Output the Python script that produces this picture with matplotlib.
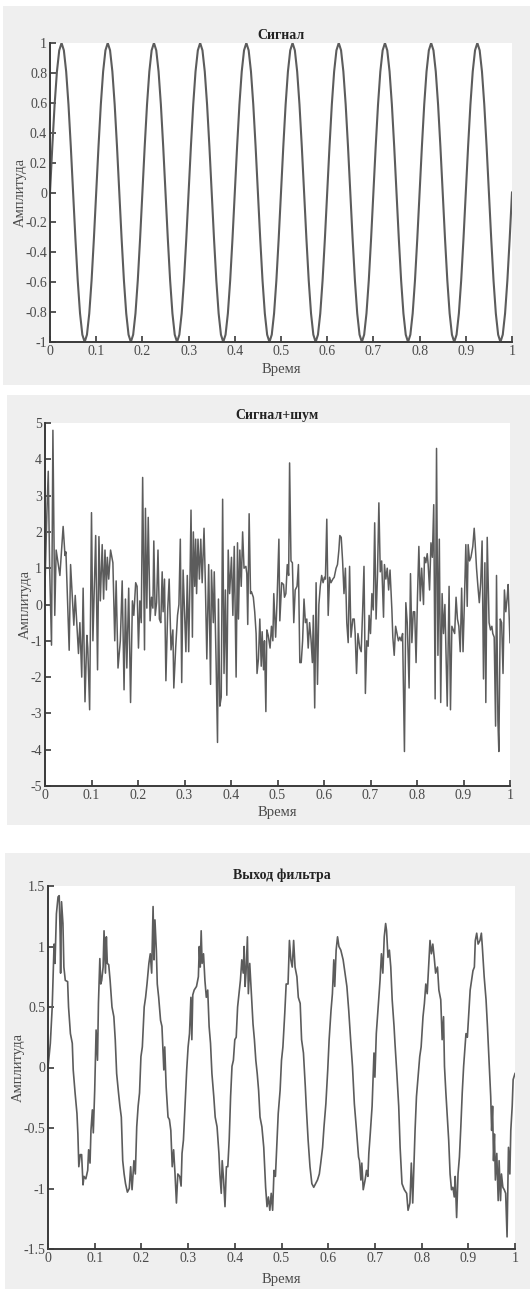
import matplotlib
matplotlib.use("Agg")
import matplotlib.pyplot as plt
from matplotlib.patches import Rectangle
from matplotlib.ticker import FuncFormatter

plt.rcParams['font.family'] = ['Liberation Serif', 'DejaVu Serif']
plt.rcParams['axes.unicode_minus'] = False

# ---------------- data ----------------
titles = ["Сигнал", "Сигнал+шум", "Выход фильтра"]
xlabel = "Время"
ylabel = "Амплитуда"
x_ticks = [0, 0.1, 0.2, 0.3, 0.4, 0.5, 0.6, 0.7, 0.8, 0.9, 1]

# clean signal sampled every 0.005 s
sig_dt = 0.005
sig_v = [
 0, .309, .588, .809, .951, 1, .951, .809, .588, .309, 0, -.309, -.588, -.809, -.951, -1, -.951, -.809, -.588, -.309,
 0, .309, .588, .809, .951, 1, .951, .809, .588, .309, 0, -.309, -.588, -.809, -.951, -1, -.951, -.809, -.588, -.309,
 0, .309, .588, .809, .951, 1, .951, .809, .588, .309, 0, -.309, -.588, -.809, -.951, -1, -.951, -.809, -.588, -.309,
 0, .309, .588, .809, .951, 1, .951, .809, .588, .309, 0, -.309, -.588, -.809, -.951, -1, -.951, -.809, -.588, -.309,
 0, .309, .588, .809, .951, 1, .951, .809, .588, .309, 0, -.309, -.588, -.809, -.951, -1, -.951, -.809, -.588, -.309,
 0, .309, .588, .809, .951, 1, .951, .809, .588, .309, 0, -.309, -.588, -.809, -.951, -1, -.951, -.809, -.588, -.309,
 0, .309, .588, .809, .951, 1, .951, .809, .588, .309, 0, -.309, -.588, -.809, -.951, -1, -.951, -.809, -.588, -.309,
 0, .309, .588, .809, .951, 1, .951, .809, .588, .309, 0, -.309, -.588, -.809, -.951, -1, -.951, -.809, -.588, -.309,
 0, .309, .588, .809, .951, 1, .951, .809, .588, .309, 0, -.309, -.588, -.809, -.951, -1, -.951, -.809, -.588, -.309,
 0, .309, .588, .809, .951, 1, .951, .809, .588, .309, 0, -.309, -.588, -.809, -.951, -1, -.951, -.809, -.588, -.309,
 0]
sig_t = [i * sig_dt for i in range(len(sig_v))]
sig_yticks = [-1, -0.8, -0.6, -0.4, -0.2, 0, 0.2, 0.4, 0.6, 0.8, 1]

# noisy signal (vertices)
noisy_t = [0.000, 0.004, 0.007, 0.010, 0.014, 0.017, 0.021, 0.024, 0.028, 0.032, 0.039, 0.043, 0.045,
           0.052, 0.055, 0.062, 0.065, 0.072, 0.075, 0.079, 0.082, 0.086, 0.090, 0.092, 0.096, 0.100,
           0.103, 0.109, 0.113, 0.116, 0.119, 0.123, 0.126, 0.129, 0.132, 0.134, 0.137, 0.141, 0.146,
           0.150, 0.153, 0.157, 0.162, 0.166, 0.170, 0.173, 0.176, 0.180, 0.184, 0.188, 0.191, 0.195,
           0.198, 0.201, 0.204, 0.207, 0.210, 0.214, 0.216, 0.219, 0.222, 0.226, 0.229, 0.232, 0.234,
           0.237, 0.240, 0.243, 0.246, 0.249, 0.252, 0.254, 0.257, 0.260, 0.264, 0.267, 0.271, 0.275,
           0.277, 0.281, 0.285, 0.288, 0.291, 0.294, 0.297, 0.300, 0.303, 0.306, 0.309, 0.312, 0.314,
           0.317, 0.319, 0.322, 0.324, 0.326, 0.329, 0.332, 0.335, 0.338, 0.342, 0.345, 0.348, 0.352,
           0.356, 0.358, 0.362, 0.364, 0.368, 0.371, 0.373, 0.376, 0.379, 0.382, 0.385, 0.388, 0.391,
           0.394, 0.397, 0.401, 0.404, 0.407, 0.411, 0.414, 0.416, 0.419, 0.422, 0.425, 0.428, 0.432,
           0.434, 0.436, 0.439, 0.442, 0.444, 0.448, 0.451, 0.454, 0.456, 0.459, 0.462, 0.465, 0.467,
           0.470, 0.472, 0.475, 0.477, 0.480, 0.484, 0.487, 0.490, 0.492, 0.496, 0.499, 0.503, 0.505,
           0.509, 0.513, 0.515, 0.518, 0.521, 0.524, 0.526, 0.529, 0.532, 0.535, 0.538, 0.542, 0.545,
           0.548, 0.551, 0.554, 0.557, 0.560, 0.563, 0.566, 0.569, 0.572, 0.575, 0.577, 0.580, 0.583,
           0.586, 0.589, 0.592, 0.595, 0.598, 0.601, 0.603, 0.606, 0.609, 0.612, 0.615, 0.619, 0.622,
           0.626, 0.629, 0.632, 0.634, 0.637, 0.640, 0.643, 0.646, 0.649, 0.652, 0.655, 0.658, 0.662,
           0.665, 0.667, 0.670, 0.673, 0.677, 0.680, 0.683, 0.686, 0.689, 0.692, 0.695, 0.697, 0.700,
           0.703, 0.706, 0.709, 0.712, 0.715, 0.718, 0.721, 0.724, 0.728, 0.730, 0.733, 0.736, 0.739,
           0.742, 0.746, 0.748, 0.751, 0.754, 0.757, 0.760, 0.763, 0.766, 0.769, 0.773, 0.776, 0.779,
           0.783, 0.786, 0.789, 0.792, 0.795, 0.798, 0.801, 0.804, 0.807, 0.810, 0.814, 0.816, 0.819,
           0.822, 0.824, 0.827, 0.830, 0.833, 0.836, 0.839, 0.842, 0.845, 0.848, 0.851, 0.854, 0.857,
           0.860, 0.862, 0.865, 0.869, 0.872, 0.875, 0.878, 0.881, 0.884, 0.887, 0.890, 0.893, 0.896,
           0.899, 0.902, 0.905, 0.908, 0.910, 0.913, 0.916, 0.920, 0.923, 0.925, 0.928, 0.931, 0.934,
           0.937, 0.940, 0.943, 0.946, 0.948, 0.951, 0.955, 0.958, 0.961, 0.963, 0.966, 0.969, 0.971,
           0.974, 0.976, 0.979, 0.982, 0.985, 0.988, 0.991, 0.994, 0.996, 1.000]
noisy_v = [0.5, 2.5, 3.67, 1.0, -1.12, 4.8, -0.3, 1.5, 1.15, 0.8, 2.15, 1.35, 1.45,
           -1.26, 1.1, -0.57, 0.25, -1.35, -0.5, -2.0, 0.45, -2.68, -0.85, -1.2, -2.9, 2.53,
           -1.0, 1.9, -1.8, 1.87, 0.1, 1.65, 0.15, 1.5, 0.4, 1.3, 0.7, 1.5, 1.15,
           -1.0, 0.65, -1.75, -1.0, 0.65, -2.35, 0.15, -1.75, 0.45, -2.7, 0.1, -0.3, 0.6,
           0.5, -1.2, 0.1, -0.5, 3.5, -1.25, 2.65, -0.1, 2.4, -0.45, 0.2, -0.1, 1.75,
           -0.3, 0.05, 1.5, -0.4, -0.5, 0.9, -0.2, 0.7, -2.1, -0.1, 0.7, -1.25, -0.7,
           -2.3, -1.2, -0.3, 0.0, 1.8, -2.15, 0.95, -0.2, -1.3, 0.8, -1.3, 0.85, 2.6,
           -0.9, 2.0, 0.5, 1.8, 0.3, 1.8, 0.7, 1.8, 0.6, 2.1, 0.5, -1.5, 1.1,
           -2.2, 0.95, -0.5, 0.9, -1.6, -3.8, 0.15, -2.8, -2.55, 2.9, -1.9, 0.4, -2.5,
           1.5, 0.3, 1.3, -0.3, 1.6, -2.0, 1.7, -0.4, 1.5, 0.5, 2.0, 1.0, 1.05,
           0.85, -0.55, 2.5, 0.3, 0.35, 0.2, -0.2, -0.8, -1.9, -1.5, -0.4, -1.7, -0.75,
           -1.8, -1.0, -2.95, -0.7, -0.85, -1.2, -0.6, -1.0, 0.3, -0.9, 0.1, 1.8, -0.45,
           0.6, 0.55, 0.2, 0.3, 1.1, 0.8, 3.9, 1.2, 1.15, -0.5, 0.4, 0.5, 1.1,
           -1.6, -1.6, -1.0, 0.15, -0.5, -0.4, -1.2, -0.5, -0.95, -1.6, -0.3, -2.85, 0.6,
           -2.2, 0.0, 0.5, 0.8, 0.6, 0.75, 0.7, 2.35, -0.3, 0.75, 0.6, 0.7, 0.75,
           1.0, 1.1, 1.5, 1.9, 1.85, 1.2, 0.3, 1.0, -0.5, -1.05, 1.05, -0.9, -0.4,
           -0.4, -0.8, -1.9, -0.8, -1.2, -1.3, -0.2, 1.05, -2.45, -1.0, -1.15, -0.3, -0.8,
           0.3, -0.15, 2.25, -0.4, 0.8, 2.8, 0.9, 1.2, -0.35, 1.1, 0.7, 1.0, 0.4,
           0.95, -0.15, -0.9, -1.4, -0.6, -0.8, -1.0, -0.9, -1.0, -0.8, -4.05, 0.05, -0.5,
           -2.3, 0.85, -1.05, -0.2, -0.2, -1.6, 0.2, 1.6, 0.1, 1.0, 0.0, 1.3, 1.15,
           1.4, 1.1, 0.4, 1.7, 1.3, 2.75, -2.6, 4.3, -1.4, 1.8, -2.7, 0.3, -0.8,
           0.0, -1.1, -2.8, 0.5, -2.9, -0.6, -0.7, -0.8, 0.2, -0.4, -0.6, -1.3, 0.45,
           -1.3, 0.1, 1.65, -0.05, 1.65, 1.2, 1.3, 1.6, 2.1, 1.7, 1.0, 0.5, 0.05,
           0.6, 1.75, -2.05, 1.15, -2.7, 1.85, -0.5, -0.7, -0.6, -0.8, -0.9, -3.35, 0.8,
           -3.2, -4.05, -0.4, -0.5, -1.9, 0.4, -0.2, 0.2, 0.55, -1.05]
noisy_yticks = [-5, -4, -3, -2, -1, 0, 1, 2, 3, 4, 5]

# filter output (vertices)
filt_t = [0.000, 0.005, 0.009, 0.013, 0.015, 0.018, 0.0215, 0.024, 0.026, 0.027, 0.029, 0.032, 0.034,
          0.037, 0.042, 0.044, 0.048, 0.052, 0.054, 0.058, 0.062, 0.064, 0.066, 0.069, 0.072, 0.075,
          0.077, 0.081, 0.085, 0.087, 0.090, 0.092, 0.095, 0.097, 0.100, 0.103, 0.106, 0.108, 0.111,
          0.113, 0.115, 0.118, 0.120, 0.123, 0.125, 0.127, 0.130, 0.133, 0.137, 0.141, 0.144, 0.147,
          0.151, 0.154, 0.157, 0.160, 0.163, 0.166, 0.170, 0.174, 0.177, 0.180, 0.184, 0.187, 0.190,
          0.193, 0.196, 0.199, 0.202, 0.206, 0.209, 0.212, 0.216, 0.219, 0.222, 0.223, 0.225, 0.227,
          0.229, 0.232, 0.234, 0.237, 0.241, 0.244, 0.248, 0.250, 0.253, 0.257, 0.260, 0.263, 0.266,
          0.269, 0.272, 0.275, 0.278, 0.282, 0.285, 0.287, 0.290, 0.294, 0.297, 0.300, 0.303, 0.306,
          0.308, 0.310, 0.313, 0.318, 0.322, 0.324, 0.326, 0.328, 0.330, 0.333, 0.336, 0.339, 0.342,
          0.345, 0.348, 0.351, 0.355, 0.358, 0.362, 0.366, 0.368, 0.371, 0.373, 0.376, 0.379, 0.382,
          0.385, 0.388, 0.391, 0.394, 0.397, 0.400, 0.403, 0.406, 0.409, 0.412, 0.415, 0.418, 0.420,
          0.422, 0.424, 0.427, 0.429, 0.432, 0.435, 0.439, 0.442, 0.445, 0.448, 0.451, 0.454, 0.458,
          0.462, 0.466, 0.469, 0.472, 0.475, 0.478, 0.481, 0.484, 0.487, 0.490, 0.493, 0.497, 0.500,
          0.503, 0.507, 0.510, 0.514, 0.517, 0.520, 0.523, 0.526, 0.529, 0.533, 0.536, 0.540, 0.543,
          0.547, 0.551, 0.553, 0.557, 0.561, 0.565, 0.569, 0.573, 0.577, 0.581, 0.584, 0.588, 0.591,
          0.595, 0.599, 0.602, 0.606, 0.609, 0.612, 0.614, 0.617, 0.620, 0.623, 0.627, 0.632, 0.637,
          0.640, 0.644, 0.648, 0.652, 0.656, 0.660, 0.665, 0.667, 0.670, 0.672, 0.675, 0.679, 0.682,
          0.685, 0.687, 0.690, 0.694, 0.698, 0.700, 0.703, 0.707, 0.711, 0.714, 0.717, 0.720, 0.723,
          0.725, 0.728, 0.731, 0.734, 0.737, 0.741, 0.743, 0.747, 0.751, 0.754, 0.758, 0.763, 0.768,
          0.771, 0.775, 0.778, 0.781, 0.784, 0.786, 0.789, 0.792, 0.796, 0.799, 0.803, 0.806, 0.809,
          0.812, 0.815, 0.818, 0.821, 0.824, 0.827, 0.830, 0.834, 0.837, 0.841, 0.844, 0.847, 0.849,
          0.852, 0.855, 0.858, 0.861, 0.864, 0.867, 0.870, 0.872, 0.875, 0.878, 0.881, 0.884, 0.887,
          0.890, 0.892, 0.895, 0.898, 0.901, 0.904, 0.907, 0.910, 0.913, 0.915, 0.918, 0.921, 0.925,
          0.928, 0.930, 0.934, 0.938, 0.941, 0.945, 0.948, 0.950, 0.952, 0.954, 0.956, 0.958, 0.961,
          0.964, 0.966, 0.969, 0.971, 0.974, 0.977, 0.980, 0.983, 0.986, 0.989, 0.991, 0.994, 0.996,
          1.000]
filt_v = [0.0, 0.2, 0.5, 1.02, 0.86, 1.27, 1.41, 1.42, 1.1, 0.78, 1.37, 1.19, 0.83,
          0.72, 0.71, 0.5, 0.28, 0.2, -0.02, -0.21, -0.38, -0.55, -0.82, -0.72, -0.72, -0.97,
          -0.9, -0.92, -0.85, -0.68, -0.79, -0.52, -0.35, -0.54, -0.19, 0.31, 0.06, 0.53, 0.9,
          0.69, 0.72, 0.83, 1.13, 0.78, 1.08, 0.86, 0.85, 0.72, 0.5, 0.42, 0.23, -0.05,
          -0.21, -0.32, -0.41, -0.77, -0.88, -0.96, -1.03, -1.0, -0.82, -1.01, -0.77, -0.88, -0.49,
          -0.32, -0.21, 0.09, 0.17, 0.5, 0.58, 0.69, 0.86, 0.94, 0.78, 0.97, 1.33, 0.89,
          1.22, 0.97, 0.69, 0.58, 0.39, 0.34, -0.02, 0.17, -0.16, -0.41, -0.43, -0.52, -0.82,
          -0.68, -0.88, -1.12, -0.88, -0.9, -0.98, -0.71, -0.6, -0.27, -0.02, 0.17, 0.28, 0.58,
          0.23, 0.6, 0.64, 0.67, 0.75, 1.0, 0.83, 1.13, 0.86, 0.94, 0.72, 0.58, 0.64,
          0.34, 0.2, -0.05, -0.24, -0.41, -0.49, -0.71, -0.88, -1.04, -0.77, -0.93, -1.15, -0.82,
          -0.82, -0.6, -0.24, 0.01, 0.06, 0.23, 0.25, 0.5, 0.61, 0.72, 0.89, 0.78, 1.0,
          0.67, 0.78, 1.08, 0.61, 0.86, 0.64, 0.36, 0.23, 0.06, -0.05, -0.19, -0.41, -0.49,
          -0.66, -0.99, -1.15, -1.07, -1.18, -1.04, -1.18, -0.85, -0.9, -0.63, -0.38, -0.19, 0.06,
          0.17, 0.45, 0.69, 0.69, 1.05, 0.89, 0.83, 1.05, 0.83, 0.75, 0.58, 0.53, 0.23,
          0.12, -0.16, -0.32, -0.6, -0.82, -0.96, -0.99, -0.96, -0.93, -0.88, -0.79, -0.66, -0.49,
          -0.3, -0.02, 0.23, 0.47, 0.61, 0.89, 0.67, 0.97, 1.08, 1.0, 0.97, 0.89, 0.75,
          0.67, 0.47, 0.23, 0.01, -0.3, -0.49, -0.74, -0.77, -0.93, -0.79, -1.01, -0.93, -0.85,
          -0.9, -0.71, -0.55, -0.32, 0.12, -0.08, 0.28, 0.5, 0.72, 0.94, 0.78, 1.08, 1.19,
          1.13, 0.91, 0.97, 0.83, 0.56, 0.34, 0.2, -0.05, -0.32, -0.66, -0.96, -1.01, -1.04,
          -1.18, -1.12, -0.79, -1.12, -0.77, -0.52, -0.24, -0.1, 0.09, 0.17, 0.42, 0.53, 0.69,
          0.61, 0.83, 1.05, 0.94, 1.02, 0.91, 0.78, 0.83, 0.64, 0.56, 0.23, 0.42, 0.01,
          -0.21, -0.41, -0.6, -0.88, -1.01, -0.99, -1.07, -0.9, -1.24, -0.88, -0.74, -0.49, -0.21,
          0.01, 0.12, 0.28, 0.25, 0.45, 0.64, 0.72, 0.8, 0.83, 1.05, 1.11, 1.02, 1.05,
          1.11, 1.0, 0.75, 0.56, 0.34, 0.01, -0.24, -0.52, -0.32, -0.77, -0.55, -0.93, -0.71,
          -1.1, -0.77, -1.1, -0.88, -0.99, -1.01, -1.04, -1.4, -0.66, -0.88, -0.52, -0.32, -0.1,
          -0.05]
filt_yticks = [-1.5, -1, -0.5, 0, 0.5, 1, 1.5]

# ---------------- figure ----------------
W, H = 530, 1289
fig = plt.figure(figsize=(W / 100, H / 100), dpi=100)
fig.patch.set_facecolor("white")

def fx(px):
    return px / W

def fy(py):
    return 1 - py / H

# gray panel backgrounds (pixel boxes: x0, y0, x1, y1)
panels = [(3, 6, 530, 385), (7, 395, 530, 825), (5, 853, 530, 1289)]
for (x0, y0, x1, y1) in panels:
    fig.patches.append(Rectangle((fx(x0), fy(y1)), fx(x1 - x0), (y1 - y0) / H,
                                 transform=fig.transFigure, facecolor="#efefef",
                                 edgecolor="none", zorder=-10))

axes_boxes = [(50, 43, 512, 342), (45, 423, 510, 786), (48, 886, 515, 1249)]
series = [(sig_t, sig_v, sig_yticks, 1.5), (noisy_t, noisy_v, noisy_yticks, 1.1),
          (filt_t, filt_v, filt_yticks, 1.2)]
title_pads = [3, 3, 5]
xlabel_pads = [4, 3, 6]

fmt = FuncFormatter(lambda v, p: "%g" % v)
for i, ((x0, y0, x1, y1), (t, v, yt, lw), title) in enumerate(zip(axes_boxes, series, titles)):
    ax = fig.add_axes([fx(x0), fy(y1), fx(x1 - x0), (y1 - y0) / H])
    ax.set_zorder(5)
    ax.set_facecolor("white")
    ax.plot(t, v, color="#5c5c5c", lw=lw, solid_joinstyle="round")
    ax.set_xlim(0, 1)
    ax.set_ylim(yt[0], yt[-1])
    ax.set_xticks(x_ticks)
    ax.set_yticks(yt)
    ax.xaxis.set_major_formatter(fmt)
    ax.yaxis.set_major_formatter(fmt)
    for s in ("top", "right"):
        ax.spines[s].set_visible(False)
    for s in ("left", "bottom"):
        ax.spines[s].set_color("#3a3a3a")
        ax.spines[s].set_linewidth(1.4)
    ax.tick_params(direction="in", length=4, width=1.2, color="#3a3a3a",
                   labelsize=10, labelcolor="#4a4a4a", pad=2)
    ax.set_title(title, fontsize=10, fontweight="bold", color="#222222", pad=title_pads[i])
    ax.set_xlabel(xlabel, fontsize=10.5, color="#4a4a4a", labelpad=xlabel_pads[i])
    ax.set_ylabel(ylabel, fontsize=10.5, color="#4a4a4a", labelpad=-1)

fig.savefig("out.png", dpi=100, facecolor="white")
